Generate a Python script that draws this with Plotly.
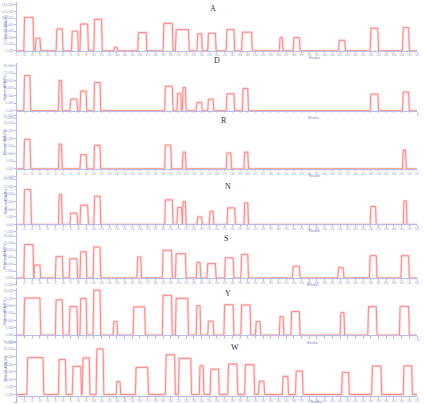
import plotly.graph_objects as go

W_PX, H_PX = 425, 404

# ---------------- data (residue start, residue end, height) ----------------
panel_names = ["A", "D", "R", "N", "S", "Y", "W"]

A_start = [9, 24, 51, 71, 82, 100, 126, 157, 190, 206, 234, 248, 272, 292, 341, 359, 418, 459, 501]
A_end   = [22, 31, 60, 80, 93, 111, 131, 169, 203, 224, 241, 259, 283, 306, 346, 368, 427, 470, 510]
A_val   = [102, 38.5, 67, 60, 82, 96, 11, 56, 84, 65, 52, 54, 65, 57, 40.6, 40.6, 32, 69, 71]

D_start = [9, 54, 69, 82, 100, 192, 208, 215, 233, 248, 272, 293, 459, 501]
D_end   = [18, 59, 79, 91, 109, 203, 214, 220, 241, 256, 283, 301, 470, 510]
D_val   = [23.4, 20, 7.7, 13, 18.75, 16.3, 11.5, 15.4, 5.5, 7.7, 11.25, 14.8, 11, 12.4]

R_start = [9, 54, 82, 100, 192, 215, 272, 295, 501]
R_end   = [18, 59, 91, 109, 201, 220, 279, 301, 506]
R_val   = [19.5, 16.3, 9.35, 15.5, 15.6, 11, 10.5, 11, 12.4]

N_start = [9, 54, 69, 82, 100, 192, 208, 215, 234, 250, 273, 295, 459, 502]
N_end   = [19, 59, 79, 93, 109, 203, 215, 220, 241, 256, 284, 301, 467, 507]
N_val   = [23.2, 19.8, 7.5, 12.8, 18.7, 16.3, 11.3, 15.2, 5, 8.8, 11, 14.3, 11.9, 15.6]

S_start = [9, 22, 50, 68, 82, 99, 156, 189, 206, 233, 247, 270, 291, 358, 417, 458, 499]
S_end   = [22, 31, 60, 79, 91, 109, 162, 202, 220, 239, 259, 282, 301, 368, 425, 468, 510]
S_val   = [24, 9.3, 15.3, 13.8, 18.8, 22.2, 15, 19.8, 17.4, 11.2, 10.3, 14.5, 16.9, 8.4, 7.4, 16, 16]

Y_start = [9, 50, 68, 82, 99, 125, 151, 189, 206, 233, 248, 269, 291, 310, 341, 356, 420, 456, 497]
Y_end   = [31, 60, 79, 91, 109, 131, 167, 202, 223, 239, 256, 282, 304, 317, 347, 368, 426, 468, 510]
Y_val   = [25.2, 24, 19.4, 25, 30.5, 9.3, 19.2, 27, 25, 20, 9.5, 20.7, 20.5, 9.3, 12.6, 16, 15.3, 19.4, 19.5]

W_start = [13, 54, 72, 85, 103, 129, 154, 193, 210, 237, 251, 274, 296, 314, 345, 362, 422, 461, 502]
W_end   = [35, 64, 84, 95, 113, 135, 171, 206, 227, 243, 263, 287, 309, 322, 353, 372, 432, 474, 514]
W_val   = [24.5, 23.2, 18.7, 24.3, 30.3, 8.6, 18, 26.4, 24, 19.1, 16.8, 20.2, 19.8, 8.8, 12, 15.5, 14.6, 18.9, 19.1]

# y-axis scales: top tick value, tick step
y_top  = [140, 30, 35, 30, 30, 30, 35]
y_step = [20, 5, 5, 5, 5, 5, 5]
y_low  = [0, -5, -5, -5, -5, -5, -5]

x_max = 520
x_step = 10

y_title = "Relative ASA (%)"
x_title = "Residue"

starts = [A_start, D_start, R_start, N_start, S_start, Y_start, W_start]
ends = [A_end, D_end, R_end, N_end, S_end, Y_end, W_end]
vals = [A_val, D_val, R_val, N_val, S_val, Y_val, W_val]

# ---------------- layout geometry (pixels) ----------------
top_tick_px = [5, 65.7, 116, 179.7, 236.7, 291.7, 342.7]
base_px     = [51, 111, 169.3, 225, 278.7, 336, 397]
title_xy    = [(214, 8.5), (218, 61), (225, 121), (229, 187), (227, 239.5), (229, 294), (236, 348)]
xtitle_xy   = [(316, 58.5), (315, 118.5), (316, 176.5), (316, 232), (314, 285.5), (314, 343.5), (318, 403)]
x_left_px, x_right_px = 16, 420

def ramp(s, e, h):
    r = 1.0
    return [s, s + r, e - r, e], [0, h, h, 0]

fig = go.Figure()
layout = dict(
    width=W_PX, height=H_PX,
    margin=dict(l=0, r=0, t=0, b=0),
    paper_bgcolor="white", plot_bgcolor="white",
    showlegend=False,
    annotations=[],
)

axis_col = "#b8bce6"
tick_col = "#9a9ed0"
line_core = "#ff7f7f"
line_halo = "rgba(255,180,180,0.45)"

for i, name in enumerate(panel_names):
    xs, ys = [0], [0]
    for s, e, h in sorted(zip(starts[i], ends[i], vals[i])):
        px_, py_ = ramp(s, e, h)
        xs += px_
        ys += py_
    xs.append(x_max)
    ys.append(0)

    suffix = "" if i == 0 else str(i + 1)
    xa, ya = "x" + suffix, "y" + suffix

    fig.add_trace(go.Scatter(x=xs, y=ys, mode="lines", xaxis=xa, yaxis=ya,
                             line=dict(color=line_halo, width=2.6), hoverinfo="skip"))
    fig.add_trace(go.Scatter(x=xs, y=ys, mode="lines", xaxis=xa, yaxis=ya,
                             line=dict(color=line_core, width=0.9), hoverinfo="skip"))

    t, b = top_tick_px[i], base_px[i]
    ppu = (b - t) / y_top[i]
    hi = y_top[i] + 3 / ppu
    lo = y_low[i] - 1 / ppu
    py_top = b - hi * ppu
    py_bot = b - lo * ppu
    dom_y = [max(0, 1 - py_bot / H_PX), min(1, 1 - py_top / H_PX)]
    base_paper = 1 - b / H_PX

    layout["xaxis" + suffix] = dict(
        domain=[x_left_px / W_PX, x_right_px / W_PX],
        range=[0, x_max], anchor="free", position=base_paper,
        showgrid=False, zeroline=False, showline=True, linecolor=axis_col, linewidth=1,
        ticks="outside", ticklen=1.5, tickcolor=axis_col,
        tickmode="linear", tick0=0, dtick=x_step,
        tickfont=dict(size=2.6, color=tick_col, family="Liberation Sans"),
    )
    layout["yaxis" + suffix] = dict(
        domain=dom_y, range=[lo, hi], anchor=xa,
        showgrid=False, zeroline=False, showline=True, linecolor=axis_col, linewidth=1,
        ticks="outside", ticklen=1.5, tickcolor=axis_col,
        tickmode="linear", tick0=y_low[i], dtick=y_step[i], tickformat=".3f",
        tickfont=dict(size=3.3, color=tick_col, family="Liberation Sans"),
    )

    tx, ty = title_xy[i]
    layout["annotations"].append(dict(
        text=name, x=tx / W_PX, y=1 - ty / H_PX, xref="paper", yref="paper",
        showarrow=False, font=dict(size=8, color="#333333", family="Liberation Serif"),
        xanchor="center", yanchor="middle"))
    xx, xy = xtitle_xy[i]
    layout["annotations"].append(dict(
        text=x_title, x=xx / W_PX, y=1 - xy / H_PX, xref="paper", yref="paper",
        showarrow=False, font=dict(size=3.0, color="#7f84c4", family="Liberation Sans"),
        xanchor="center", yanchor="middle"))
    layout["annotations"].append(dict(
        text=y_title, x=4.5 / W_PX, y=1 - ((t + b) / 2) / H_PX, xref="paper", yref="paper",
        showarrow=False, textangle=-90,
        font=dict(size=3.3, color="#6c70b4", family="Liberation Sans"),
        xanchor="center", yanchor="middle"))

fig.update_layout(**layout)
fig.write_html("out.html", config={"displayModeBar": False},
               post_script="document.body.style.margin='0';")
